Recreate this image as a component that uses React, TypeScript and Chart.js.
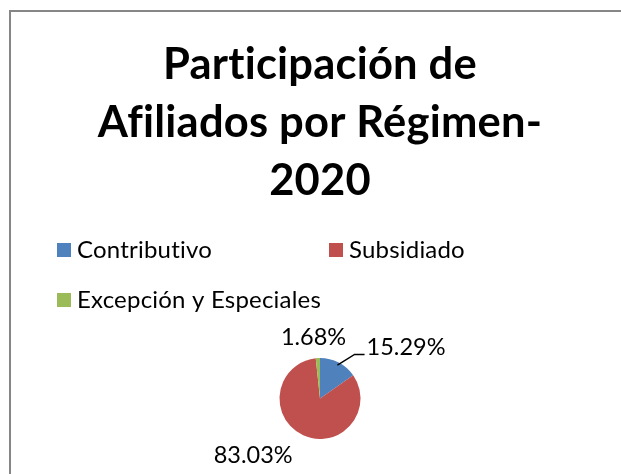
import React, { useEffect, useRef } from "react";
import { Chart, registerables } from "chart.js";

Chart.register(...registerables);

const titleLines = ["Participación de", "Afiliados por Régimen-", "2020"];
const categories = ["Contributivo", "Subsidiado", "Excepción y Especiales"];
const shares = [15.29, 83.03, 1.68];
const colors = ["#4F81BD", "#C0504D", "#9BBB59"];

const FONT = "Lato, 'Open Sans', sans-serif";

const framePlugin = {
  id: "frame",
  beforeDraw(chart: any) {
    const ctx = chart.ctx;
    ctx.save();
    ctx.fillStyle = "#ffffff";
    ctx.fillRect(0, 0, chart.width, chart.height);
    ctx.strokeStyle = "#868686";
    ctx.lineWidth = 2;
    ctx.strokeRect(10, 11, chart.width + 50, chart.height + 50);
    ctx.restore();
    // small spacing also keeps "fi"/"ti" as separate letters, like the reference
    ctx.letterSpacing = "0.2px";
  },
};

const columnLegendPlugin = {
  id: "columnLegend",
  afterDraw(chart: any, _args: any, opts: any) {
    const ctx = chart.ctx;
    const labels = chart.data.labels as string[];
    const bg = chart.data.datasets[0].backgroundColor as string[];
    ctx.save();
    ctx.letterSpacing = "0.2px";
    ctx.font = `${opts.fontSize}px ${FONT}`;
    ctx.textBaseline = "middle";
    ctx.textAlign = "left";
    labels.forEach((lab, i) => {
      const col = i % opts.columns.length;
      const row = Math.floor(i / opts.columns.length);
      const x = opts.columns[col];
      const y = opts.rows[row];
      ctx.fillStyle = bg[i];
      ctx.fillRect(x, y - opts.box / 2, opts.box, opts.box);
      ctx.fillStyle = "#000000";
      ctx.fillText(lab, x + opts.box + opts.gap, y);
    });
    ctx.restore();
  },
};

const pieLabelPlugin = {
  id: "pieLabels",
  afterDatasetsDraw(chart: any, _args: any, opts: any) {
    const ctx = chart.ctx;
    const meta = chart.getDatasetMeta(0);
    const values = chart.data.datasets[0].data as number[];
    ctx.save();
    ctx.letterSpacing = "0px";
    ctx.font = `${opts.fontSize}px ${FONT}`;
    ctx.fillStyle = "#000000";
    ctx.textBaseline = "middle";
    meta.data.forEach((arc: any, i: number) => {
      const { x, y, outerRadius, startAngle, endAngle } = arc.getProps(
        ["x", "y", "outerRadius", "startAngle", "endAngle"],
        true
      );
      const spec = opts.place[i];
      const lx = x + spec.dx * outerRadius;
      const ly = y + spec.dy * outerRadius;
      ctx.textAlign = spec.align;
      ctx.fillText(values[i].toFixed(2) + "%", lx, ly);
      if (spec.leader) {
        const mid = (startAngle + endAngle) / 2;
        const ax = x + Math.cos(mid) * outerRadius * 0.93;
        const ay = y + Math.sin(mid) * outerRadius * 0.93;
        const ex = lx - 2;
        const ey = ly + 6.5;
        ctx.strokeStyle = "#000000";
        ctx.lineWidth = 1.5;
        ctx.beginPath();
        ctx.moveTo(ax, ay);
        ctx.lineTo(ex - 10, ey);
        ctx.lineTo(ex, ey);
        ctx.stroke();
      }
    });
    ctx.restore();
  },
};

export default function App() {
  const ref = useRef<HTMLCanvasElement | null>(null);
  useEffect(() => {
    document.body.style.margin = "0";
    const chart = new Chart(ref.current as HTMLCanvasElement, {
      type: "pie",
      data: {
        labels: categories,
        datasets: [
          {
            data: shares,
            backgroundColor: colors,
            borderWidth: 0,
          },
        ],
      },
      options: {
        responsive: false,
        animation: false,
        layout: { padding: { left: 19, right: 0, top: 0, bottom: 35 } },
        plugins: {
          legend: { display: false },
          tooltip: { enabled: false },
          title: {
            display: true,
            text: titleLines,
            color: "#000000",
            font: { family: FONT, size: 43.5, weight: "bold", lineHeight: 58 / 43.5 },
            padding: { top: 36, bottom: 148 },
          },
          columnLegend: {
            fontSize: 24,
            box: 14,
            gap: 6,
            columns: [57, 329],
            rows: [250, 300],
          },
          pieLabels: {
            fontSize: 23.5,
            place: [
              { dx: 1.15, dy: -1.25, align: "left", leader: true },
              { dx: -1.65, dy: 1.41, align: "center", leader: false },
              { dx: -0.16, dy: -1.5, align: "center", leader: false },
            ],
          },
        } as any,
      },
      plugins: [framePlugin, columnLegendPlugin, pieLabelPlugin],
    });
    return () => chart.destroy();
  }, []);
  return (
    <div style={{ position: "absolute", left: 0, top: 0, width: 621, height: 474 }}>
      <canvas ref={ref} width={621} height={474} />
    </div>
  );
}
